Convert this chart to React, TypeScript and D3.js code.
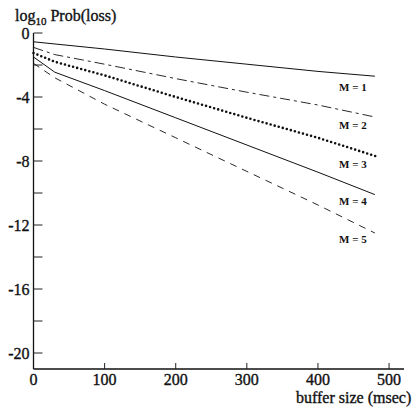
import React from "react";
import * as d3 from "d3";

const bufferM1 = [0, 100, 200, 300, 400, 480];
const lossM1 = [-0.55, -1.0, -1.5, -1.95, -2.4, -2.7];
const bufferM2 = [0, 30, 100, 200, 300, 400, 480];
const lossM2 = [-0.9, -1.35, -1.95, -2.85, -3.7, -4.5, -5.25];
const bufferM3 = [0, 30, 100, 200, 300, 400, 485];
const lossM3 = [-1.25, -1.8, -2.65, -4.0, -5.3, -6.55, -7.75];
const bufferM4 = [0, 30, 100, 200, 300, 400, 480];
const lossM4 = [-1.5, -2.45, -3.6, -5.3, -7.0, -8.7, -10.1];
const bufferM5 = [0, 30, 100, 200, 300, 400, 480];
const lossM5 = [-1.9, -2.8, -4.45, -6.55, -8.65, -10.75, -12.5];
const seriesLabels = ["M = 1", "M = 2", "M = 3", "M = 4", "M = 5"];
const xTicks = [0, 100, 200, 300, 400, 500];
const yMajorTicks = [0, -4, -8, -12, -16, -20];
const yMinorTicks = [-2, -6, -10, -14, -18];

const W = 414, H = 409;
const x = d3.scaleLinear().domain([0, 521]).range([33.5, 404]);
const y = d3.scaleLinear().domain([0, -21]).range([33, 369]);

const styles = [
  { dash: "none", width: 1 },
  { dash: "10 4 3 4", width: 0.9 },
  { dash: "0 4.2", width: 2.6, cap: "round" },
  { dash: "none", width: 1 },
  { dash: "7 6", width: 0.9 },
];

export default function App() {
  const series = [
    [bufferM1, lossM1],
    [bufferM2, lossM2],
    [bufferM3, lossM3],
    [bufferM4, lossM4],
    [bufferM5, lossM5],
  ];
  const line = d3
    .line<[number, number]>()
    .x((d) => x(d[0]))
    .y((d) => y(d[1]));
  const font = "'Liberation Serif', 'Times New Roman', serif";
  const labelY = [-3.4, -5.75, -8.2, -10.5, -12.9];
  const ts = { stroke: "#111", strokeWidth: 0.35 };
  return (
    <svg width={W} height={H} style={{ position: "absolute", left: 0, top: 0, background: "#fff" }} fontFamily={font}>
      <rect width={W} height={H} fill="#fff" />
      <line x1={x(0)} x2={x(0)} y1={y(0)} y2={y(-21)} stroke="#111" strokeWidth={1.3} />
      <line x1={x(0)} x2={x(521)} y1={y(-21)} y2={y(-21)} stroke="#111" strokeWidth={1.3} />
      {yMajorTicks.concat(yMinorTicks).map((t) => (
        <line key={"yt" + t} x1={x(0)} x2={x(0) + 9} y1={y(t)} y2={y(t)} stroke="#222" strokeWidth={1} />
      ))}
      {yMajorTicks.map((t) => (
        <text key={"yl" + t} x={x(0) - 4} y={y(t)} dy="0.35em" textAnchor="end" fontSize={16} fill="#111" {...ts}>
          {t === 0 ? "0" : "-" + Math.abs(t)}
        </text>
      ))}
      {xTicks.filter((t) => t > 0).map((t) => (
        <line key={"xt" + t} x1={x(t)} x2={x(t)} y1={y(-21)} y2={y(-21) - 6} stroke="#222" strokeWidth={1} />
      ))}
      {xTicks.map((t) => (
        <text key={"xl" + t} x={x(t)} y={y(-21) + 16} textAnchor="middle" fontSize={16} fill="#111" {...ts}>
          {t}
        </text>
      ))}
      <text x={296} y={403} fontSize={16} fill="#111" {...ts}>buffer size (msec)</text>
      <text x={15} y={21} fontSize={16} fill="#111" {...ts}>
        log<tspan fontSize={11} dy={4}>10</tspan>
        <tspan dy={-4}> Prob(loss)</tspan>
      </text>
      {series.map(([xs, ys], i) => {
        const pts = xs.map((v, j) => [v, ys[j]] as [number, number]);
        const s = styles[i];
        return (
          <path
            key={"s" + i}
            d={line(pts) || ""}
            fill="none"
            stroke="#111"
            strokeWidth={s.width}
            strokeDasharray={s.dash}
            strokeLinecap={(s as any).cap || "butt"}
          />
        );
      })}
      {seriesLabels.map((lab, i) => (
        <text key={"lab" + i} x={339} y={y(labelY[i])} dy="0.35em" fontSize={11} fontWeight="bold" fill="#111">
          {lab}
        </text>
      ))}
    </svg>
  );
}
